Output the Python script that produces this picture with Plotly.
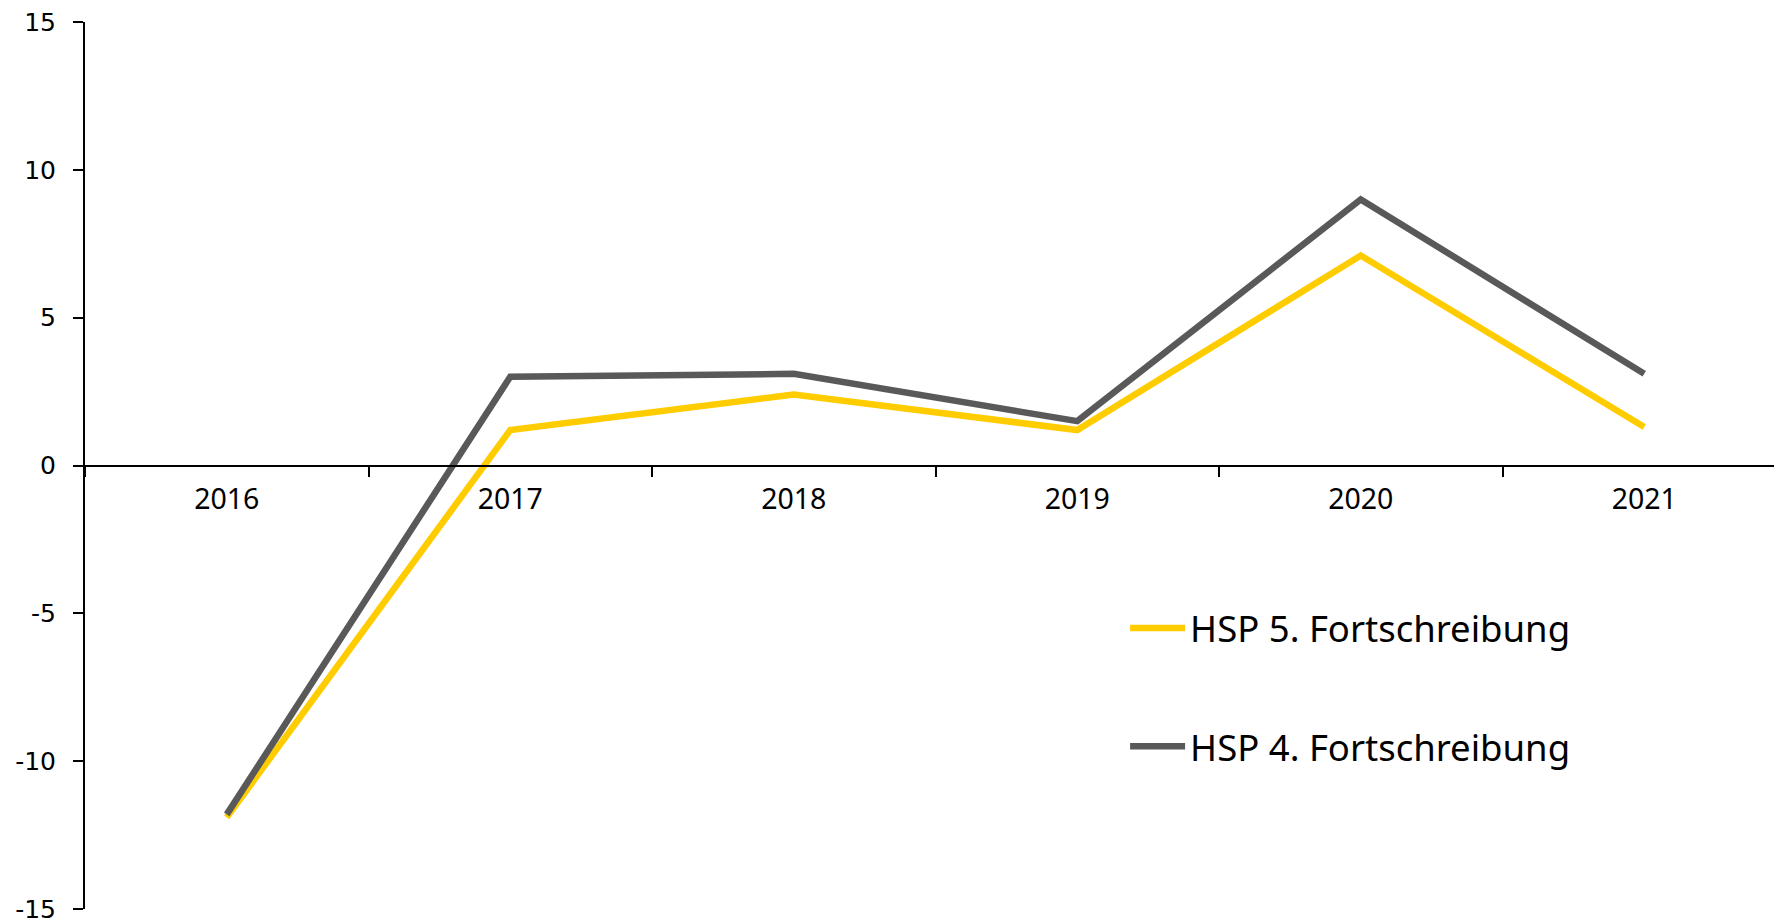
import plotly.graph_objects as go

years = ["2016", "2017", "2018", "2019", "2020", "2021"]
hsp5 = [-11.9, 1.2, 2.4, 1.2, 7.1, 1.3]
hsp4 = [-11.8, 3.0, 3.1, 1.5, 9.0, 3.1]
y_ticks = [-15, -10, -5, 0, 5, 10, 15]
y_ticktext = ["-15", "-10", "-5", "0", "5", "10", "15"]

W, H = 1774, 916
ML, MR, MT, MB = 77, 0, 12, 15

fig = go.Figure()
fig.add_trace(go.Scatter(x=years, y=hsp5, mode="lines", name="HSP 5. Fortschreibung",
                         line=dict(color="#FFCC00", width=6.5), legendgroup="a"))
fig.add_trace(go.Scatter(x=years, y=hsp4, mode="lines", name="HSP 4. Fortschreibung",
                         line=dict(color="#595959", width=6.5), legendgroup="b"))

plot_w = W - ML - MR
cat_px = 283.5
fig.update_layout(
    width=W, height=H,
    margin=dict(l=ML, r=MR, t=MT, b=MB, pad=0),
    paper_bgcolor="white", plot_bgcolor="white",
    showlegend=True,
    legend=dict(x=0.6129, y=0.351, xanchor="left", yanchor="top",
                font=dict(family="Noto Sans", size=36.5, color="black"),
                bgcolor="rgba(0,0,0,0)", traceorder="grouped", tracegroupgap=68,
                itemwidth=55),
    xaxis=dict(type="category", range=[-0.5, -0.5 + plot_w / cat_px],
               anchor="free", position=0.5,
               showline=True, linecolor="black", linewidth=2,
               ticks="outside", tickson="boundaries", ticklen=10, tickwidth=1.5, tickcolor="black",
               showgrid=False, zeroline=False,
               tickfont=dict(family="Noto Sans", size=28.5, color="black"),
               ticklabelstandoff=8),
    yaxis=dict(range=[-15, 15], tickvals=y_ticks, ticktext=y_ticktext,
               showline=True, linecolor="black", linewidth=2,
               ticks="outside", ticklen=10, tickwidth=1.5, tickcolor="black",
               showgrid=False, zeroline=False, ticklabeloverflow="allow",
               tickfont=dict(family="DejaVu Sans", size=25, color="black"),
               ticklabelstandoff=12),
)
fig.write_html("out.html")
